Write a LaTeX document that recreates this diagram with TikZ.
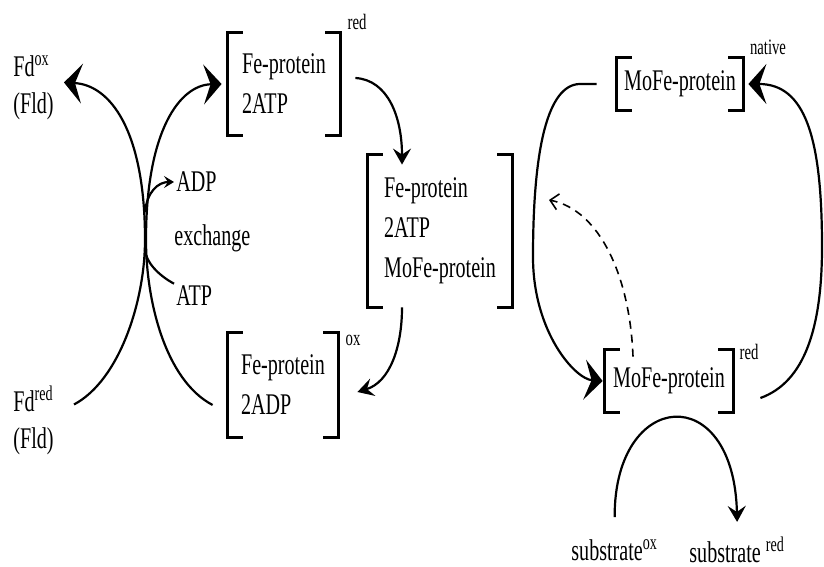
\documentclass[tikz,border=0pt]{standalone}
\usepackage{fontspec}
\setmainfont[FakeStretch=0.67]{Liberation Serif}
\usetikzlibrary{arrows.meta}

\tikzset{
  lbl/.style={inner sep=1pt, align=left, font=\fontsize{15}{20}\selectfont},
  cplx/.style={lbl, inner sep=0pt},
  supr/.style={inner sep=1pt, font=\fontsize{11}{13}\selectfont},
  brk/.style={line width=1.3pt},
  flow/.style={line width=1.1pt},
  bigtip/.style={-{Stealth[length=9pt,width=20pt,inset=3.5pt]}},
  smalltip/.style={-{Stealth[length=8pt,width=9pt,inset=3pt]}},
}

\begin{document}
\begin{tikzpicture}[x=0.5pt,y=0.5pt]
  \useasboundingbox (0,0) rectangle (824,567);

  % Fd / Fld
  \node[lbl, anchor=west, font=\fontsize{15}{18.5}\selectfont] (fdox) at (11,479.5) {Fd\textsuperscript{ox}\\(Fld)};
  \node[lbl, anchor=west, font=\fontsize{15}{18.5}\selectfont] (fdred) at (11,146.5) {Fd\textsuperscript{red}\\(Fld)};

  % Fe-protein complexes
  \node[cplx, minimum width=56pt, minimum height=51pt] (fe1) at (284,483) {Fe-protein\\2ATP};
  \node[cplx, minimum width=72pt, minimum height=76pt] (fe2) at (440,336) {Fe-protein\\2ATP\\MoFe-protein};
  \node[cplx, minimum width=55pt, minimum height=52pt] (fe3) at (283,182) {Fe-protein\\2ADP};

  % MoFe-protein states
  \node[cplx, minimum width=63pt, minimum height=26pt] (mo1) at (680,483) {MoFe-protein};
  \node[cplx, minimum width=64pt, minimum height=31pt] (mo2) at (669,186) {MoFe-protein};

  % square brackets round each complex
  \foreach \n in {fe1,fe2,fe3,mo1,mo2} {
    \draw[brk] ([xshift=7.5pt]\n.north west) -- (\n.north west) -- (\n.south west) -- ++(15,0);
    \draw[brk] ([xshift=-7.5pt]\n.north east) -- (\n.north east) -- (\n.south east) -- ++(-15,0);
  }

  \node[supr] (fe1s) at (357,545) {red};
  \node[supr] (fe3s) at (353,227) {ox};
  \node[supr] (mo1s) at (768,520) {native};
  \node[supr] (mo2s) at (749,215) {red};

  % nucleotide exchange
  \node[lbl, anchor=west] (adp) at (174,385) {ADP};
  \node[lbl, anchor=west] (exch) at (172,329) {exchange};
  \node[lbl, anchor=west] (atp) at (174,271) {ATP};
  \coordinate (xout) at (145,355);
  \coordinate (xin) at (145,317);

  % substrates
  \node[lbl, anchor=west] (subox) at (569,17) {substrate\textsuperscript{ox}};
  \node[lbl, anchor=west] (subred) at (687,17) {substrate \textsuperscript{red}};
  \coordinate (back) at (549,367);

  % Fd cycle and Fe-protein cycle
  \draw[flow, bigtip] ([shift={(18,16)}]fdred.east) .. controls (120,187) and (145,267) .. (145,327)
     .. controls (145,437) and (110,482) .. ([shift={(8,5)}]fdox.east);
  \draw[flow, bigtip] ([shift={(-15,-20)}]fe3.west) .. controls (165,187) and (146,267) .. (146,327)
     .. controls (146,437) and (180,482) .. ([xshift=-3pt]fe1.west);
  \draw[flow, -{Stealth[length=5pt,width=6pt,inset=2pt]}] (xout) .. controls (147,375) and (158,385) .. (adp.west);
  \draw[flow] (atp.north west) .. controls (158,292) and (146,305) .. (xin);

  % Fe-protein through the complex
  \draw[flow, smalltip] ([shift={(15,6)}]fe1.east) .. controls (388,487) and (402,450) .. ([shift={(-38,-10)}]fe2.north);
  \draw[flow, smalltip] ([xshift=-19pt]fe2.south) .. controls (402,220) and (390,185) .. ([shift={(19,-7)}]fe3.east);

  % MoFe-protein cycle
  \draw[flow, bigtip] ([xshift=-10pt]mo1.west) -- ++(-17,0) .. controls (548,482) and (533,420) .. (533,310)
     .. controls (533,235) and (575,188) .. ([xshift=-1pt]mo2.west);
  \draw[flow, bigtip] ([shift={(27,-17)}]mo2.east) .. controls (805,185) and (822,240) .. (822,320)
     .. controls (822,430) and (805,483) .. ([xshift=2.5pt]mo1.east);
  \draw[line width=0.8pt, dash pattern=on 4pt off 3pt, -{Straight Barb[length=4pt,width=8pt]}]
     ([shift={(-36,-7)}]mo2.north) .. controls (630,290) and (600,357) .. (back);

  % substrate reduction
  \draw[flow, smalltip] ([yshift=10pt]subox.north) .. controls (614,178) and (734,188) .. ([yshift=6.5pt]subred.north);
\end{tikzpicture}
\end{document}
